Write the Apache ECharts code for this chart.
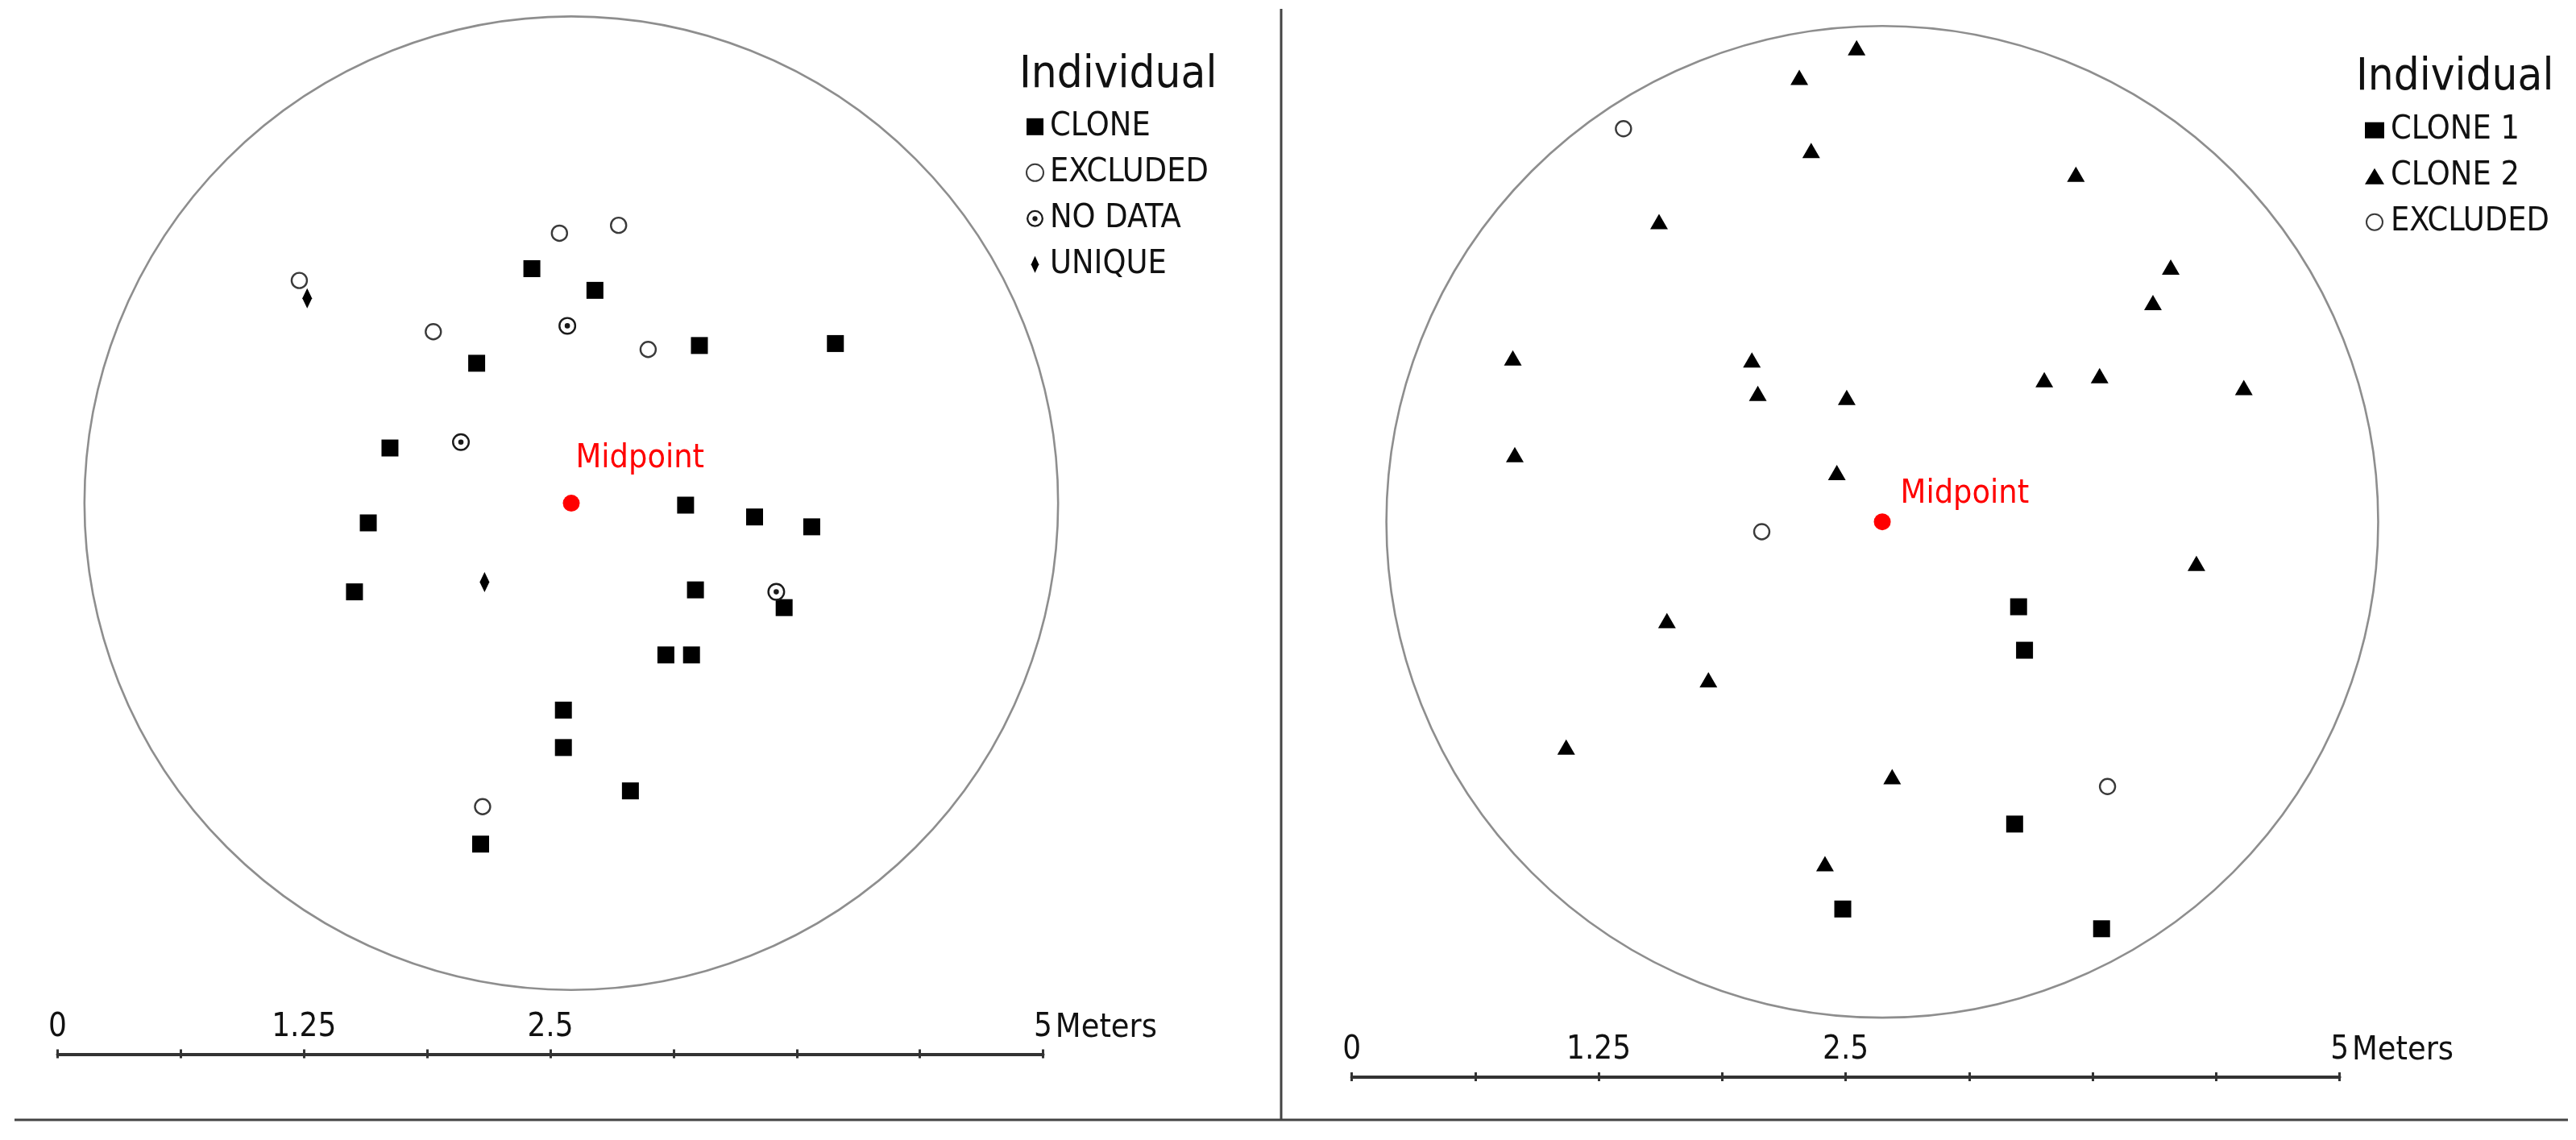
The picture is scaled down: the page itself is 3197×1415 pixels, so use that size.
<!DOCTYPE html>
<html>
<head>
<meta charset="utf-8">
<script src="https://cdn.jsdelivr.net/npm/echarts@6/dist/echarts.min.js"></script>
<style>
html,body{margin:0;padding:0;background:#ffffff;}
#chart{width:3197px;height:1415px;}
</style>
</head>
<body>
<div id="chart"></div>
<script>
// ---------- DATA (metres, relative to the plot midpoint; y up) ----------
const leftClone = [[-0.20,1.19],[0.12,1.08],[0.65,0.80],[1.34,0.81],[-0.48,0.71],[-0.92,0.28],
  [0.58,-0.01],[0.93,-0.07],[1.22,-0.12],[-1.03,-0.10],[-1.10,-0.45],[0.63,-0.44],[1.08,-0.53],
  [0.48,-0.77],[0.61,-0.77],[-0.04,-1.05],[-0.04,-1.24],[0.30,-1.46],[-0.46,-1.73]];
const leftExcluded = [[-1.38,1.13],[-0.06,1.37],[0.24,1.41],[-0.70,0.87],[0.39,0.78],[-0.45,-1.54]];
const leftNoData = [[-0.02,0.90],[-0.56,0.31],[1.04,-0.45]];
const leftUnique = [[-1.34,1.04],[-0.44,-0.40]];
const leftMidpoint = [[0,0]];
const leftRadius = 2.47;

const rightClone1 = [[0.69,-0.43],[0.72,-0.65],[0.67,-1.53],[-0.20,-1.96],[1.11,-2.06]];
const rightClone2 = [[-0.13,2.40],[-0.42,2.25],[-0.36,1.88],[0.98,1.76],[-1.13,1.52],[1.46,1.29],
  [1.37,1.11],[-1.87,0.83],[-0.66,0.82],[-0.63,0.65],[-0.18,0.63],[0.82,0.72],[1.10,0.74],
  [1.83,0.68],[-1.86,0.34],[-0.23,0.25],[1.59,-0.21],[-1.09,-0.50],[-0.88,-0.80],[-1.60,-1.14],
  [0.05,-1.29],[-0.29,-1.73]];
const rightExcluded = [[-1.31,1.99],[-0.61,-0.05],[1.14,-1.34]];
const rightMidpoint = [[0,0]];
const rightRadius = 2.51;

const scaleMax = 5;
const scaleStep = 0.625;
const scaleLabels = [0, 1.25, 2.5, 5];
const scaleUnit = 'Meters';

const leftLegend = ['CLONE', 'EXCLUDED', 'NO DATA', 'UNIQUE'];
const rightLegend = ['CLONE 1', 'CLONE 2', 'EXCLUDED'];
const legendTitle = 'Individual';
const midpointLabel = 'Midpoint';

// ---------- STYLE ----------
const FONT = "'DejaVu Sans Condensed', 'DejaVu Sans', sans-serif";
const INK = '#111111';
const RING_DOT = 'path://M0,10A10,10,0,1,1,20,10A10,10,0,1,1,0,10Z' +
  'M2.2,10A7.8,7.8,0,1,0,17.8,10A7.8,7.8,0,1,0,2.2,10Z' +
  'M7,10A3,3,0,1,1,13,10A3,3,0,1,1,7,10Z';
const DIAMOND = 'path://M6,0L12,13L6,26L0,13Z';

function circleSeries(name, xi, radius) {
  return {
    type: 'custom', name: name, xAxisIndex: xi, yAxisIndex: xi, clip: false, z: 1,
    silent: true,
    data: [[0, 0, radius]],
    renderItem: function (params, api) {
      const c = api.coord([api.value(0), api.value(1)]);
      const r = api.size([api.value(2), 0])[0];
      return { type: 'circle', shape: { cx: c[0], cy: c[1], r: r },
        style: { fill: 'none', stroke: '#8e8e8e', lineWidth: 2.6 } };
    }
  };
}

function scaleAxes(gridIndex) {
  return [{
    gridIndex: gridIndex, type: 'value', position: 'top', min: 0, max: scaleMax, interval: scaleStep,
    axisLine: { show: true, lineStyle: { color: '#333', width: 4 } },
    axisTick: { show: true, length: 6, lineStyle: { color: '#333', width: 3 } },
    splitLine: { show: false },
    axisLabel: {
      show: true, interval: 0, margin: 12, fontSize: 40, fontFamily: FONT, color: INK,
      verticalAlign: 'bottom',
      formatter: function (v) { return scaleLabels.indexOf(v) >= 0 ? String(v) : ''; }
    },
    name: scaleUnit, nameLocation: 'end', nameGap: -4,
    nameTextStyle: { fontSize: 41, fontFamily: FONT, color: INK, align: 'left',
      verticalAlign: 'bottom', padding: [0, 0, 12, 0] }
  }, {
    gridIndex: gridIndex, type: 'value', position: 'bottom', min: 0, max: scaleMax, interval: scaleStep,
    axisLine: { show: false },
    axisTick: { show: true, length: 5, lineStyle: { color: '#333', width: 3 } },
    splitLine: { show: false }, axisLabel: { show: false }
  }];
}

const hiddenAxis = function (gi, min, max) {
  return { gridIndex: gi, type: 'value', min: min, max: max, show: false,
    splitLine: { show: false } };
};

const SOLID = { color: '#000', opacity: 1 };
const HOLLOW = { color: '#fff', borderColor: '#3a3a3a', borderWidth: 2.4, opacity: 1 };
const MID = { color: '#ff0000', opacity: 1 };

const option = {
  backgroundColor: '#ffffff',
  animation: false,
  textStyle: { fontFamily: FONT },
  grid: [
    { left: 24.1, top: 0.8, width: 1369.8, height: 1247.5 },
    { left: 1649.5, top: 10.2, width: 1373.1, height: 1275.0 },
    { left: 71.5, top: 1307.5, width: 1223, height: 1 },
    { left: 1677.6, top: 1336, width: 1226, height: 1 }
  ],
  xAxis: [
    hiddenAxis(0, -2.8, 2.8),
    hiddenAxis(1, -2.8, 2.8)
  ].concat(scaleAxes(2)).concat(scaleAxes(3)),
  yAxis: [
    hiddenAxis(0, -2.55, 2.55),
    hiddenAxis(1, -2.6, 2.6),
    hiddenAxis(2, 0, 1),
    hiddenAxis(3, 0, 1)
  ],
  title: [
    { text: legendTitle, left: 1260, top: 60,
      textStyle: { fontSize: 56, fontWeight: 'normal', fontFamily: FONT, color: INK } },
    { text: legendTitle, left: 2919, top: 63,
      textStyle: { fontSize: 56, fontWeight: 'normal', fontFamily: FONT, color: INK } }
  ],
  legend: [
    { data: leftLegend, orient: 'vertical', left: 1268, top: 131.8,
      itemWidth: 21, itemHeight: 21, itemGap: 16, selectedMode: false,
      textStyle: { fontSize: 41, fontFamily: FONT, color: INK, padding: [0, 0, 0, 3] } },
    { data: rightLegend, orient: 'vertical', left: 2930, top: 136.2,
      itemWidth: 24, itemHeight: 20, itemGap: 16, selectedMode: false,
      textStyle: { fontSize: 41, fontFamily: FONT, color: INK, padding: [0, 0, 0, 3] } }
  ],
  graphic: [
    { type: 'line', shape: { x1: 1590, y1: 11, x2: 1590, y2: 1390 },
      style: { stroke: '#444', lineWidth: 3 } },
    { type: 'line', shape: { x1: 18, y1: 1390, x2: 3187, y2: 1390 },
      style: { stroke: '#444', lineWidth: 3 } }
  ],
  series: [
    circleSeries('leftBoundary', 0, leftRadius),
    { type: 'scatter', name: 'CLONE', xAxisIndex: 0, yAxisIndex: 0, data: leftClone,
      symbol: 'rect', symbolSize: 21, itemStyle: SOLID, z: 3 },
    { type: 'scatter', name: 'EXCLUDED', xAxisIndex: 0, yAxisIndex: 0, data: leftExcluded,
      symbol: 'circle', symbolSize: 19, itemStyle: HOLLOW, z: 3 },
    { type: 'scatter', name: 'NO DATA', xAxisIndex: 0, yAxisIndex: 0, data: leftNoData,
      symbol: RING_DOT, symbolSize: 22, itemStyle: { color: '#1a1a1a', opacity: 1 }, z: 4 },
    { type: 'scatter', name: 'UNIQUE', xAxisIndex: 0, yAxisIndex: 0, data: leftUnique,
      symbol: DIAMOND, symbolSize: [12, 25], symbolKeepAspect: false,
      itemStyle: SOLID, z: 4 },
    { type: 'scatter', name: 'leftMid', xAxisIndex: 0, yAxisIndex: 0, data: leftMidpoint,
      symbol: 'circle', symbolSize: 21, itemStyle: MID, z: 5,
      label: { show: true, formatter: midpointLabel, position: [16, -44.5],
        align: 'left', verticalAlign: 'middle', fontSize: 41, fontFamily: FONT, color: '#ff0000' } },

    circleSeries('rightBoundary', 1, rightRadius),
    { type: 'scatter', name: 'CLONE 1', xAxisIndex: 1, yAxisIndex: 1, data: rightClone1,
      symbol: 'rect', symbolSize: 21, itemStyle: SOLID, z: 3 },
    { type: 'scatter', name: 'CLONE 2', xAxisIndex: 1, yAxisIndex: 1, data: rightClone2,
      symbol: 'triangle', symbolSize: [22, 19], itemStyle: SOLID, z: 3 },
    { type: 'scatter', name: 'EXCLUDED', xAxisIndex: 1, yAxisIndex: 1, data: rightExcluded,
      symbol: 'circle', symbolSize: 19, itemStyle: HOLLOW, z: 3 },
    { type: 'scatter', name: 'rightMid', xAxisIndex: 1, yAxisIndex: 1, data: rightMidpoint,
      symbol: 'circle', symbolSize: 21, itemStyle: MID, z: 5,
      label: { show: true, formatter: midpointLabel, position: [33, -24.3],
        align: 'left', verticalAlign: 'middle', fontSize: 41, fontFamily: FONT, color: '#ff0000' } }
  ]
};

const chart = echarts.init(document.getElementById('chart'), null, { renderer: 'canvas' });
chart.setOption(option);
</script>
</body>
</html>
